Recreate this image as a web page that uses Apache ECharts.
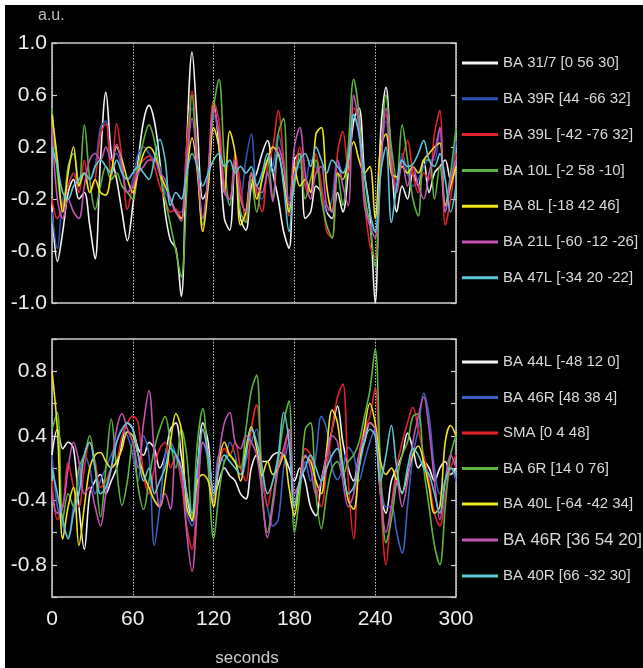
<!DOCTYPE html>
<html>
<head>
<meta charset="utf-8">
<script src="https://cdn.jsdelivr.net/npm/echarts@6.0.0/dist/echarts.min.js"></script>
<style>
html, body { margin: 0; padding: 0; background: #fff; }
#chart { position: absolute; left: 5px; top: 5px; width: 638px; height: 663px; background: #000; }
</style>
</head>
<body>
<div id="chart"></div>
<script>
// time grid: one sample every 4 s, 0..300
var seconds = [];
for (var t = 0; t <= 300; t += 4) seconds.push(t);

var topTickLabels = ['-1.0', '-0.6', '-0.2', '0.2', '0.6', '1.0'];
// bottom axis runs -1..1 in steps of 0.25, only four of them are labelled
var bottomTickLabels = ['', '-0.8', '', '-0.4', '', '0.4', '', '0.8', ''];

var topNames = ['BA 31/7 [0 56 30]', 'BA 39R [44 -66 32]', 'BA 39L [-42 -76 32]', 'BA 10L [-2 58 -10]',
    'BA 8L [-18 42 46]', 'BA 21L [-60 -12 -26]', 'BA 47L [-34 20 -22]'];
var bottomNames = ['BA 44L [-48 12 0]', 'BA 46R [48 38 4]', 'SMA [0 4 48]', 'BA 6R [14 0 76]',
    'BA 40L [-64 -42 34]', 'BA 46R [36 54 20]', 'BA 40R [66 -32 30]'];

var topColors = ['#f4f4f4', '#2f56b4', '#e3232b', '#5cb53c', '#f0e41a', '#c552b5', '#5ec6da'];
var bottomColors = ['#f4f4f4', '#3b62c4', '#e3232b', '#5cb53c', '#f0e41a', '#c552b5', '#5ec6da'];

// top panel
var ba31 = [-0.25,-0.68,-0.45,-0.15,-0.05,-0.2,-0.15,-0.4,-0.66,0.1,
    0.62,0.15,-0.05,-0.3,-0.52,-0.25,0.1,0.4,0.52,0.4,
    0.1,-0.3,-0.52,-0.58,-0.95,0.2,0.93,0.35,-0.2,-0.1,
    0.55,0.2,-0.35,-0.44,0.1,-0.35,-0.44,-0.1,0.0,0.15,
    0.25,0.0,-0.2,-0.45,-0.58,0.1,0.15,-0.35,-0.3,-0.1,
    -0.15,-0.3,-0.35,-0.15,-0.3,0.0,0.4,0.5,0.0,-0.3,
    -1.0,0.3,0.66,0.1,-0.3,-0.1,-0.2,0.0,-0.1,0.1,
    -0.15,0.0,0.05,0.1,-0.05,0.05];
var ba39R = [-0.3,-0.58,-0.2,-0.1,0.0,-0.1,0.0,-0.05,0.05,0.35,
    0.4,0.1,0.15,0.0,-0.15,-0.05,0.15,0.2,0.15,0.1,
    0.05,-0.15,-0.2,-0.3,-0.3,0.2,0.5,0.1,-0.35,-0.1,
    0.45,0.3,-0.1,-0.25,0.1,-0.2,0.1,0.3,-0.15,-0.2,
    0.0,0.05,0.3,0.1,-0.2,0.0,0.05,-0.1,0.1,0.05,
    -0.1,-0.3,-0.2,0.1,0.0,0.15,0.45,0.3,-0.2,-0.4,
    -0.45,0.1,0.4,0.05,-0.1,0.15,0.0,-0.1,-0.05,0.05,
    0.1,0.1,0.35,-0.3,-0.1,0.25];
var ba39L = [-0.2,-0.35,-0.25,-0.1,0.0,-0.15,0.1,-0.15,-0.05,0.3,
    0.38,-0.05,0.38,0.1,-0.28,-0.1,0.05,0.1,0.13,0.05,
    -0.1,-0.2,-0.3,-0.28,-0.35,0.2,0.63,0.1,-0.45,0.0,
    0.55,0.4,-0.1,-0.2,0.15,-0.1,-0.37,0.0,-0.15,-0.3,
    0.05,0.2,0.48,0.1,-0.33,0.0,0.2,-0.1,-0.2,0.15,
    -0.1,-0.45,-0.5,0.15,0.32,0.0,0.5,0.4,-0.2,-0.55,
    -0.65,0.1,0.45,0.1,-0.1,0.1,0.25,0.0,-0.15,0.0,
    -0.05,0.3,0.48,-0.4,-0.2,0.15];
var ba10L = [0.5,0.0,-0.3,0.05,0.15,-0.1,0.37,-0.05,-0.28,-0.1,
    0.05,-0.05,0.0,-0.1,-0.15,-0.2,0.05,0.25,0.37,0.25,
    0.0,-0.2,-0.4,-0.6,-0.8,-0.15,0.6,0.05,-0.4,0.0,
    0.5,0.72,0.1,-0.25,0.05,-0.3,-0.38,-0.05,-0.3,-0.05,
    0.1,-0.2,0.3,0.42,-0.3,-0.1,0.15,-0.2,-0.05,0.1,
    -0.2,-0.4,-0.5,0.0,-0.25,0.2,0.72,0.45,-0.15,-0.4,
    -0.72,0.0,0.6,0.2,-0.05,0.37,0.1,-0.2,-0.33,0.1,
    0.1,-0.2,0.05,-0.25,0.0,0.35];
var ba8L = [0.45,0.1,-0.3,0.0,0.2,-0.1,0.0,-0.15,-0.05,-0.15,
    -0.17,0.0,0.2,0.1,-0.05,-0.15,0.0,0.15,0.2,0.15,
    0.0,-0.1,-0.2,-0.3,-0.35,0.0,0.27,0.0,-0.45,-0.1,
    0.35,0.2,-0.15,0.32,0.15,-0.4,-0.3,0.0,-0.2,-0.05,
    0.1,0.2,0.15,-0.05,-0.3,0.05,-0.1,-0.05,-0.15,0.3,
    0.35,-0.1,-0.3,0.0,-0.05,0.1,0.24,0.1,0.0,0.05,
    -0.35,0.2,0.3,0.0,-0.03,0.05,0.0,0.05,0.0,0.1,
    0.15,0.2,0.23,-0.25,-0.1,0.05];
var ba21L = [0.35,-0.2,-0.35,-0.2,-0.3,-0.35,-0.1,0.1,0.15,0.1,
    0.2,0.1,0.22,0.05,-0.15,-0.1,0.0,0.05,0.1,0.1,
    0.0,-0.05,-0.2,-0.3,-0.37,0.1,0.42,0.05,-0.35,0.0,
    0.5,0.3,-0.15,-0.2,0.1,-0.2,-0.3,0.0,-0.1,-0.15,
    0.0,-0.22,0.2,0.05,-0.25,0.2,0.35,0.0,-0.2,0.0,
    0.05,-0.25,-0.3,0.1,-0.1,-0.25,0.6,0.35,-0.25,-0.4,
    -0.5,0.0,0.5,0.05,-0.15,0.1,-0.1,0.05,-0.1,-0.2,
    0.0,0.15,0.35,-0.3,-0.05,0.1];
var ba47L = [0.2,0.05,-0.15,-0.2,-0.1,-0.05,0.0,-0.05,0.05,0.1,
    0.05,0.0,0.1,0.0,-0.05,0.0,0.05,0.0,-0.05,0.1,
    0.26,0.1,-0.25,-0.15,-0.2,0.0,0.15,0.05,-0.1,0.0,
    0.1,0.15,0.05,0.1,0.0,0.05,0.0,0.05,-0.1,0.0,
    0.15,0.0,0.15,-0.1,-0.45,-0.05,0.1,0.15,0.05,0.2,
    0.1,0.0,0.1,0.05,0.0,0.1,0.45,0.3,0.0,-0.3,
    -0.45,0.0,0.2,-0.38,-0.1,0.1,0.05,0.07,0.15,0.25,
    0.1,0.05,0.15,-0.05,-0.3,-0.1];

// bottom panel (in axis units, see bottomTickLabels)
var ba44L = [0.1,0.3,0.15,0.2,0.15,-0.3,-0.63,-0.2,-0.1,-0.05,
    -0.2,-0.1,0.0,0.2,0.35,0.3,0.15,0.1,0.2,0.15,
    0.0,0.1,0.3,0.35,0.1,-0.2,-0.41,0.0,0.35,0.2,
    -0.25,-0.1,0.0,-0.06,-0.1,-0.2,-0.24,0.0,0.1,0.05,
    0.05,0.1,0.12,0.1,0.0,-0.1,0.0,-0.1,-0.3,-0.37,
    -0.1,0.1,0.3,0.48,0.2,0.0,-0.1,0.1,0.2,0.35,
    0.3,-0.2,-0.35,-0.1,0.0,0.1,0.27,0.15,0.0,0.05,
    0.0,-0.1,0.0,0.05,-0.05,0.0];
var ba46Ra = [0.1,-0.3,-0.45,-0.53,-0.3,-0.1,0.1,0.0,-0.2,-0.1,
    0.0,0.1,0.2,0.3,0.25,0.1,-0.1,0.25,0.1,-0.6,
    -0.3,0.1,0.2,0.1,-0.1,-0.35,-0.45,-0.1,0.2,0.05,
    -0.25,0.1,0.05,0.2,0.1,-0.1,0.05,0.2,0.3,-0.1,
    -0.3,-0.45,-0.4,0.0,0.2,-0.2,-0.15,0.05,-0.1,0.1,
    0.4,0.3,0.0,-0.09,0.0,0.16,0.1,-0.1,0.05,0.2,
    0.3,-0.1,-0.3,-0.3,-0.5,-0.66,-0.3,0.1,0.3,0.58,
    0.4,0.0,-0.2,-0.1,0.0,-0.1];
var sma = [-0.1,-0.4,-0.3,0.04,-0.15,-0.3,0.0,0.2,0.05,-0.15,
    -0.1,0.0,0.05,0.25,0.35,0.4,0.35,-0.05,-0.2,0.0,
    0.15,0.2,0.0,0.1,-0.1,-0.45,-0.63,-0.2,0.3,0.1,
    -0.3,0.0,0.15,0.1,0.2,0.0,-0.1,0.3,0.49,0.0,
    -0.3,-0.1,0.0,0.1,0.3,-0.3,-0.1,0.15,0.1,-0.15,
    -0.3,0.0,0.3,0.55,0.65,-0.1,-0.55,0.1,0.3,0.4,
    0.62,-0.2,-0.75,-0.3,0.0,0.2,0.35,0.47,0.3,0.1,
    -0.1,-0.35,-0.45,-0.2,0.0,0.1];
var ba6R = [0.3,0.43,-0.4,-0.2,-0.3,0.0,0.1,0.25,0.0,-0.38,
    0.0,0.38,0.0,-0.29,-0.1,0.2,-0.15,-0.32,-0.1,0.15,
    0.3,0.4,0.2,0.0,0.3,0.1,-0.38,0.2,0.46,0.0,
    -0.55,-0.2,0.05,0.1,0.04,0.0,0.3,0.6,0.72,-0.2,
    -0.5,-0.25,0.05,0.35,0.52,-0.5,-0.2,0.3,0.35,-0.2,
    -0.47,-0.2,0.0,0.05,-0.05,0.05,0.1,0.2,0.4,0.6,
    0.92,0.0,-0.58,-0.4,-0.1,0.1,0.2,0.4,0.42,0.0,
    -0.3,-0.6,-0.75,-0.3,0.1,0.25];
var ba40L = [0.75,0.3,-0.55,-0.3,-0.15,-0.6,-0.3,0.0,0.1,0.12,
    0.05,0.0,0.05,0.15,0.28,0.25,0.1,-0.05,-0.15,-0.25,
    -0.3,-0.1,0.2,0.42,0.3,-0.3,-0.4,-0.1,-0.05,-0.1,
    -0.3,0.05,0.2,0.1,0.05,-0.1,0.15,0.32,0.15,-0.06,
    0.05,-0.05,0.0,0.1,-0.15,-0.37,-0.1,0.09,0.05,-0.1,
    -0.2,0.15,0.45,0.35,0.0,-0.25,-0.32,0.0,0.3,0.5,
    0.35,0.05,-0.05,0.0,-0.1,-0.19,-0.05,0.1,0.17,0.05,
    -0.15,-0.35,-0.3,0.2,0.33,0.25];
var ba46Rb = [-0.2,-0.35,-0.3,0.0,0.2,0.05,-0.2,-0.15,-0.3,-0.45,
    -0.2,0.0,0.3,0.42,0.3,0.2,0.0,0.35,0.6,0.1,
    -0.3,-0.2,-0.32,0.1,0.0,-0.5,-0.8,-0.3,0.2,0.1,
    -0.2,0.1,0.35,0.43,0.2,0.15,0.25,0.2,0.1,-0.2,
    -0.54,-0.3,0.0,0.15,0.3,-0.2,-0.1,0.1,0.0,-0.2,
    -0.1,0.1,0.25,0.2,-0.1,-0.3,-0.2,0.1,0.25,0.35,
    0.3,-0.2,-0.5,-0.3,-0.1,-0.3,-0.1,0.2,0.4,0.55,
    0.3,-0.1,-0.4,-0.1,0.1,0.0];
var ba40R = [0.0,-0.2,-0.4,-0.55,-0.35,-0.2,0.1,0.2,0.0,-0.2,
    -0.15,0.0,0.2,0.3,0.35,0.3,0.1,-0.1,0.0,-0.2,
    -0.1,0.0,0.15,0.1,0.0,-0.2,-0.35,0.0,0.3,0.1,
    -0.2,0.0,0.1,0.05,0.0,-0.05,0.1,0.3,0.2,0.0,
    -0.2,-0.1,0.1,0.43,0.2,-0.3,-0.1,0.0,0.1,0.0,
    -0.1,0.0,0.1,0.15,0.0,-0.2,-0.15,0.0,0.2,0.3,
    0.25,-0.1,0.1,0.33,0.0,-0.2,0.0,0.15,0.1,0.0,
    -0.05,-0.2,-0.35,-0.1,0.0,-0.05];

var topValues = [ba31, ba39R, ba39L, ba10L, ba8L, ba21L, ba47L];
var bottomValues = [ba44L, ba46Ra, sma, ba6R, ba40L, ba46Rb, ba40R];

var font = '"Liberation Sans", Arial, sans-serif';
var frame = '#cfcfcf';

function pairs(vals) {
    return vals.map(function (v, i) { return [seconds[i], v]; });
}

var series = [];
topNames.forEach(function (n, i) {
    series.push({
        name: n, type: 'line', xAxisIndex: 0, yAxisIndex: 0,
        data: pairs(topValues[i]), smooth: 0.35, symbol: 'none',
        lineStyle: { width: 1.6, color: topColors[i] }, itemStyle: { color: topColors[i] }
    });
});
bottomNames.forEach(function (n, i) {
    series.push({
        name: n, type: 'line', xAxisIndex: 1, yAxisIndex: 2,
        data: pairs(bottomValues[i]), smooth: 0.35, symbol: 'none',
        lineStyle: { width: 1.6, color: bottomColors[i] }, itemStyle: { color: bottomColors[i] }
    });
});

function xAxis(idx, labels) {
    return {
        gridIndex: idx, type: 'value', min: 0, max: 300, interval: 60,
        axisLine: { show: false }, axisTick: { show: false },
        axisLabel: { show: labels, color: '#eeeeee', fontSize: 21, margin: 12, fontFamily: font },
        splitLine: { show: true, lineStyle: { color: '#c4c4c4', width: 1, type: [1.5, 1.5] } }
    };
}

function yAxis(idx, pos, step, labels) {
    return {
        gridIndex: idx, type: 'value', position: pos, min: -1, max: 1, interval: step,
        axisLine: { show: false },
        axisTick: { show: true, inside: true, length: 5, lineStyle: { color: frame, width: 1.2 } },
        axisLabel: {
            show: !!labels, color: '#eeeeee', fontSize: 21, margin: 5, fontFamily: font,
            formatter: function (v) { return labels[Math.round((v + 1) / step)]; }
        },
        splitLine: { show: false }
    };
}

var legendText = { color: '#d9d9d9', fontSize: 15, lineHeight: 16, fontFamily: font };

var option = {
    animation: false,
    backgroundColor: '#000',
    grid: [
        { left: 47, top: 38, width: 404, height: 260, show: true, borderColor: frame, borderWidth: 1.5 },
        { left: 47, top: 334, width: 404, height: 258, show: true, borderColor: frame, borderWidth: 1.5 }
    ],
    xAxis: [xAxis(0, false), xAxis(1, true)],
    yAxis: [
        yAxis(0, 'left', 0.4, topTickLabels),
        yAxis(0, 'right', 0.4, null),
        yAxis(1, 'left', 0.25, bottomTickLabels),
        yAxis(1, 'right', 0.25, null)
    ],
    legend: [
        {
            data: topNames, orient: 'vertical', left: 452, top: 45, padding: 5,
            icon: 'rect', itemWidth: 36, itemHeight: 3,
            itemGap: 19.8, selectedMode: false, textStyle: legendText
        },
        {
            data: bottomNames.map(function (n, i) {
                return i === 5 ? { name: n, textStyle: { fontSize: 17 } } : n;
            }),
            orient: 'vertical', left: 452, top: 344, padding: 5,
            icon: 'rect', itemWidth: 36, itemHeight: 3,
            itemGap: 19.5, selectedMode: false, textStyle: legendText
        }
    ],
    graphic: [
        { type: 'text', x: 33, y: 3, style: { text: 'a.u.', fill: '#bdbdbd', font: '16px ' + font } },
        { type: 'text', x: 242, y: 653, style: { text: 'seconds', fill: '#cccccc', font: '17px ' + font, align: 'center', verticalAlign: 'middle' } }
    ],
    series: series
};

var chart = echarts.init(document.getElementById('chart'));
chart.setOption(option);
</script>
</body>
</html>
